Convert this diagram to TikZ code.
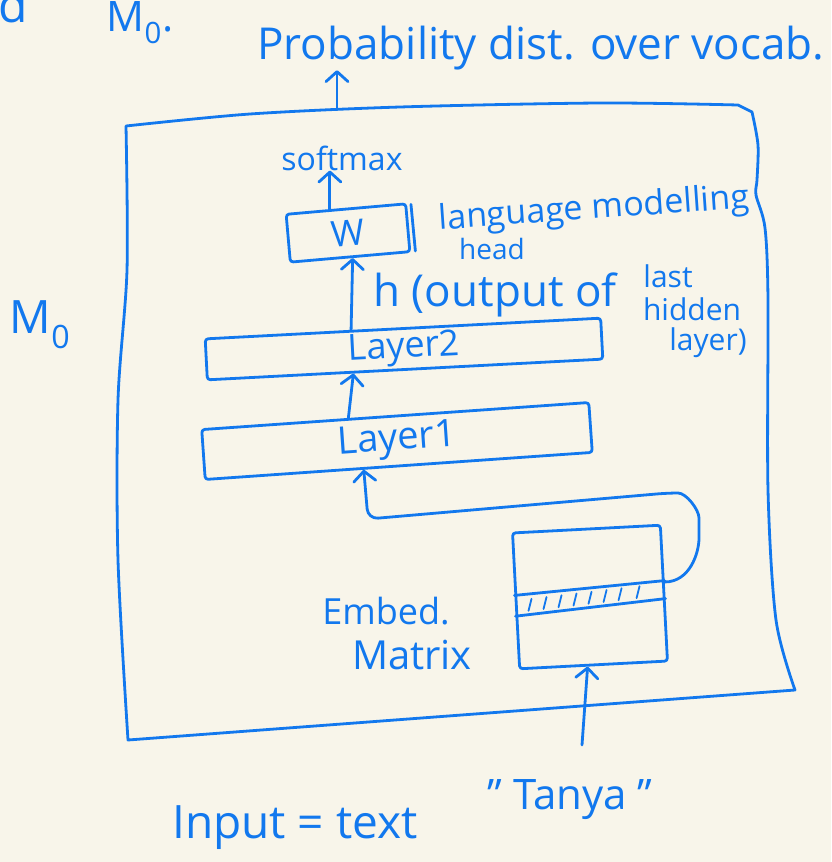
\documentclass[tikz,border=0pt]{standalone}
\usepackage{fontspec}
\setmainfont{Open Sans}
\usetikzlibrary{calc,positioning,arrows.meta}
\definecolor{ink}{RGB}{18,120,238}
\definecolor{paper}{RGB}{248,245,234}
\newcommand\inksize[1]{\fontsize{#1}{#1}\selectfont}

\begin{document}
\begin{tikzpicture}[x=1pt,y=-1pt,every node/.style={text=ink,inner sep=0pt},
  box/.style={draw=ink,line width=2.8pt,line join=round,rounded corners=3pt},
  stroke/.style={draw=ink,line width=2.8pt,line cap=round,line join=round},
  flow/.style={stroke,-{Straight Barb[length=10pt,width=22pt,round]}}]
\fill[paper] (0,0) rectangle (831,862);
\useasboundingbox (0,0) rectangle (831,862);
\node [font=\inksize{48},anchor=base] (ModelNameCut) at (13,22) {d};
\node [font=\inksize{42},anchor=base] (ModelNameTop) at (140,31) {M\textsubscript{0}.};
\node [font=\inksize{46}] (ModelName) at (40,325) {M\textsubscript{0}};
\node [font=\inksize{44}] (ProbDist) at (541,48) {Probability dist. over vocab.};
\draw [stroke] plot [smooth,tension=0.5] coordinates {(126,126) (250,114) (400,107) (600,103) (738,105)} -- (752,112)
  -- plot [smooth,tension=0.5] coordinates {(752,112) (758,145) (757,180) (756,195) (765,228) (768,300) (768,490) (776,620) (795,690)}
  -- (128,740) -- plot [smooth,tension=0.5] coordinates {(128,740) (118,560) (118,400) (127,270) (126,126)};
\coordinate (BoxTopOut) at (337,109);
\draw [flow] (BoxTopOut) -- (BoxTopOut |- ProbDist.south);
\node [box,rotate=5,minimum width=120pt,minimum height=48pt,font=\inksize{36},text height=26pt,text depth=0pt] (LMHead) at (348,233) {W};
\draw [stroke] ($(LMHead.north east)+(4,2)$) -- ($(LMHead.south east)+(4,-2)$);
\node [font=\inksize{32}] (Softmax) at (342,158) {softmax};
\draw [flow] ($(LMHead.north west)!0.37!(LMHead.north east)$) coordinate (LMHeadOut) -- (LMHeadOut |- Softmax.south);
\node [font=\inksize{34},rotate=4] (LanguageHeadLabel1) at (594,210) {language modelling};
\node [font=\inksize{28}] (LanguageHeadLabel2) at (492,249) {head};
\node [box,rotate=3,minimum width=396pt,minimum height=41pt,font=\inksize{36},text height=26pt,text depth=8pt] (Layer2) at (404,349) {Layer2};
\node [box,rotate=4,minimum width=388pt,minimum height=50pt,font=\inksize{38},text height=27pt,text depth=9pt] (Layer1) at (397,441) {Layer1};
\draw [flow] ($(Layer2.north west)!0.37!(Layer2.north east)$) -- ($(LMHead.south west)!0.52!(LMHead.south east)$);
\node [font=\inksize{44}] (HiddenLabel1) at (495,295) {h (output of};
\node [font=\inksize{30}] (HiddenLabel2) at (668,276) {last};
\node [font=\inksize{30}] (HiddenLabel3) at (692,309) {hidden};
\node [font=\inksize{30}] (HiddenLabel4) at (708,343) {layer)};
\draw [flow] ($(Layer1.north west)!0.38!(Layer1.north east)$) -- ($(Layer2.south west)!0.37!(Layer2.south east)$);
\node [box,rotate=3,minimum width=148pt,minimum height=136pt] (EmbedMatrix) at (590,597) {};
\draw [stroke] ($(EmbedMatrix.north west)!0.46!(EmbedMatrix.south west)$) coordinate (BandTopW) -- ($(EmbedMatrix.north east)!0.41!(EmbedMatrix.south east)$) coordinate (BandTopE);
\draw [stroke] ($(EmbedMatrix.north west)!0.61!(EmbedMatrix.south west)$) coordinate (BandBotW) -- ($(EmbedMatrix.north east)!0.54!(EmbedMatrix.south east)$) coordinate (BandBotE);
\foreach \t in {0.08,0.18,0.28,0.38,0.48,0.58,0.68,0.8} \draw [stroke,line width=1.8pt] ($(BandBotW)!\t!(BandBotE)+(1,-4)$) -- ++(3,-12);
\coordinate (EmbedOut) at ($(EmbedMatrix.north east)!0.42!(EmbedMatrix.south east)$);
\draw [flow,rounded corners=10pt] (EmbedOut) to[out=0,in=-90] (699,528) to[out=90,in=0] (668,493) -- (368,519) -- ($(Layer1.south west)!0.41!(Layer1.south east)$);
\node [font=\inksize{36}] (EmbedMatrixLabel1) at (386,611) {Embed.};
\node [font=\inksize{40}] (EmbedMatrixLabel2) at (412,655) {Matrix};
\node [font=\inksize{46}] (InputText) at (295,828) {Input = text};
\node [font=\inksize{42}] (InputToken) at (570,800) {" Tanya "};
\coordinate (TokenIn) at (582,745);
\draw [flow] (TokenIn) -- ($(EmbedMatrix.south west)!0.46!(EmbedMatrix.south east)$);
\end{tikzpicture}
\end{document}
